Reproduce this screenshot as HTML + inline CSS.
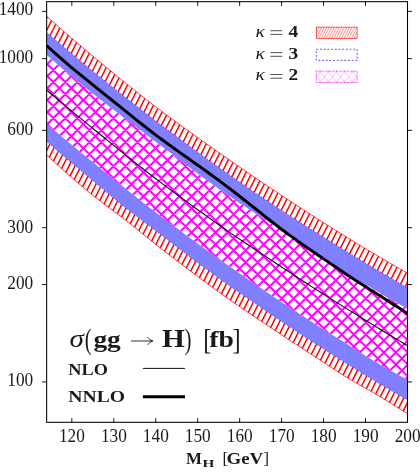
<!DOCTYPE html>
<html><head><meta charset="utf-8"><title>chart</title>
<style>html,body{margin:0;padding:0;background:#fff;overflow:hidden}body{width:420px;height:473px;position:relative;font-family:"Liberation Serif",serif}</style>
</head><body>
<svg width="420" height="473" viewBox="0 0 420 473" style="position:absolute;left:0;top:0;will-change:transform;font-family:'Liberation Serif',serif">
<defs>
<clipPath id="cp"><rect x="46.65" y="1.67" width="360.85" height="420.63"/></clipPath>
</defs>
<rect width="420" height="473" fill="#fff"/>
<clipPath id="cr"><path d="M46.65 16.36 L50.66 19.89 L54.67 23.41 L58.68 26.91 L62.69 30.40 L66.70 33.87 L70.71 37.32 L74.72 40.76 L78.73 44.18 L82.74 47.58 L86.74 50.97 L90.75 54.33 L94.76 57.68 L98.77 61.02 L102.78 64.35 L106.79 67.67 L110.80 70.98 L114.81 74.27 L118.82 77.55 L122.83 80.81 L126.84 84.06 L130.85 87.28 L134.86 90.49 L138.87 93.67 L142.88 96.82 L146.89 99.95 L150.90 103.05 L154.91 106.13 L158.91 109.17 L162.92 112.19 L166.93 115.18 L170.94 118.16 L174.95 121.11 L178.96 124.05 L182.97 126.97 L186.98 129.87 L190.99 132.76 L195.00 135.63 L199.01 138.49 L203.02 141.35 L207.03 144.19 L211.04 147.03 L215.05 149.86 L219.06 152.68 L223.07 155.50 L227.08 158.31 L231.08 161.10 L235.09 163.88 L239.10 166.65 L243.11 169.41 L247.12 172.16 L251.13 174.90 L255.14 177.63 L259.15 180.35 L263.16 183.06 L267.17 185.76 L271.18 188.45 L275.19 191.13 L279.20 193.80 L283.21 196.46 L287.22 199.11 L291.23 201.75 L295.24 204.38 L299.25 207.01 L303.25 209.62 L307.26 212.22 L311.27 214.81 L315.28 217.38 L319.29 219.95 L323.30 222.50 L327.31 225.04 L331.32 227.57 L335.33 230.09 L339.34 232.59 L343.35 235.08 L347.36 237.56 L351.37 240.02 L355.38 242.47 L359.39 244.91 L363.40 247.34 L367.41 249.75 L371.42 252.15 L375.42 254.54 L379.43 256.91 L383.44 259.28 L387.45 261.63 L391.46 263.97 L395.47 266.29 L399.48 268.60 L403.49 270.90 L407.50 273.19 L407.50 413.69 L403.49 411.15 L399.48 408.64 L395.47 406.14 L391.46 403.67 L387.45 401.21 L383.44 398.76 L379.43 396.31 L375.42 393.88 L371.42 391.51 L367.41 389.20 L363.40 386.94 L359.39 384.69 L355.38 382.43 L351.37 380.11 L347.36 377.72 L343.35 375.22 L339.34 372.66 L335.33 370.07 L331.32 367.45 L327.31 364.81 L323.30 362.17 L319.29 359.52 L315.28 356.89 L311.27 354.27 L307.26 351.66 L303.25 349.06 L299.25 346.45 L295.24 343.84 L291.23 341.23 L287.22 338.60 L283.21 335.96 L279.20 333.30 L275.19 330.64 L271.18 327.97 L267.17 325.30 L263.16 322.62 L259.15 319.93 L255.14 317.23 L251.13 314.51 L247.12 311.78 L243.11 309.04 L239.10 306.27 L235.09 303.49 L231.08 300.69 L227.08 297.87 L223.07 295.02 L219.06 292.14 L215.05 289.24 L211.04 286.32 L207.03 283.39 L203.02 280.43 L199.01 277.46 L195.00 274.47 L190.99 271.46 L186.98 268.43 L182.97 265.39 L178.96 262.34 L174.95 259.26 L170.94 256.18 L166.93 253.08 L162.92 249.97 L158.91 246.85 L154.91 243.71 L150.90 240.54 L146.89 237.32 L142.88 234.08 L138.87 230.82 L134.86 227.56 L130.85 224.33 L126.84 221.12 L122.83 217.97 L118.82 214.91 L114.81 211.92 L110.80 208.97 L106.79 206.02 L102.78 203.05 L98.77 200.01 L94.76 196.88 L90.75 193.63 L86.74 190.33 L82.74 187.00 L78.73 183.61 L74.72 180.19 L70.71 176.71 L66.70 173.19 L62.69 169.63 L58.68 166.01 L54.67 162.34 L50.66 158.63 L46.65 154.86Z"/></clipPath>
<clipPath id="cm"><path d="M46.65 55.06 L50.66 58.51 L54.67 61.94 L58.68 65.36 L62.69 68.75 L66.70 72.13 L70.71 75.49 L74.72 78.82 L78.73 82.13 L82.74 85.41 L86.74 88.67 L90.75 91.90 L94.76 95.10 L98.77 98.27 L102.78 101.42 L106.79 104.56 L110.80 107.67 L114.81 110.77 L118.82 113.85 L122.83 116.92 L126.84 119.98 L130.85 123.03 L134.86 126.06 L138.87 129.09 L142.88 132.12 L146.89 135.14 L150.90 138.15 L154.91 141.17 L158.91 144.19 L162.92 147.22 L166.93 150.26 L170.94 153.31 L174.95 156.35 L178.96 159.40 L182.97 162.44 L186.98 165.48 L190.99 168.50 L195.00 171.51 L199.01 174.50 L203.02 177.47 L207.03 180.41 L211.04 183.33 L215.05 186.21 L219.06 189.06 L223.07 191.86 L227.08 194.62 L231.08 197.34 L235.09 200.02 L239.10 202.67 L243.11 205.30 L247.12 207.91 L251.13 210.50 L255.14 213.08 L259.15 215.66 L263.16 218.23 L267.17 220.81 L271.18 223.40 L275.19 226.00 L279.20 228.63 L283.21 231.27 L287.22 233.95 L291.23 236.63 L295.24 239.34 L299.25 242.05 L303.25 244.76 L307.26 247.48 L311.27 250.19 L315.28 252.89 L319.29 255.58 L323.30 258.25 L327.31 260.89 L331.32 263.51 L335.33 266.09 L339.34 268.64 L343.35 271.14 L347.36 273.61 L351.37 276.06 L355.38 278.50 L359.39 280.93 L363.40 283.34 L367.41 285.74 L371.42 288.12 L375.42 290.48 L379.43 292.83 L383.44 295.16 L387.45 297.46 L391.46 299.75 L395.47 302.02 L399.48 304.27 L403.49 306.49 L407.50 308.69 L407.50 379.69 L403.49 377.59 L399.48 375.46 L395.47 373.29 L391.46 371.09 L387.45 368.85 L383.44 366.57 L379.43 364.23 L375.42 361.85 L371.42 359.42 L367.41 356.95 L363.40 354.46 L359.39 351.94 L355.38 349.41 L351.37 346.88 L347.36 344.37 L343.35 341.87 L339.34 339.37 L335.33 336.86 L331.32 334.34 L327.31 331.80 L323.30 329.25 L319.29 326.70 L315.28 324.13 L311.27 321.54 L307.26 318.95 L303.25 316.35 L299.25 313.73 L295.24 311.10 L291.23 308.46 L287.22 305.81 L283.21 303.15 L279.20 300.47 L275.19 297.79 L271.18 295.09 L267.17 292.38 L263.16 289.66 L259.15 286.93 L255.14 284.18 L251.13 281.43 L247.12 278.66 L243.11 275.88 L239.10 273.09 L235.09 270.29 L231.08 267.47 L227.08 264.65 L223.07 261.81 L219.06 258.96 L215.05 256.10 L211.04 253.23 L207.03 250.34 L203.02 247.44 L199.01 244.53 L195.00 241.61 L190.99 238.67 L186.98 235.72 L182.97 232.76 L178.96 229.79 L174.95 226.80 L170.94 223.81 L166.93 220.80 L162.92 217.77 L158.91 214.74 L154.91 211.69 L150.90 208.63 L146.89 205.53 L142.88 202.41 L138.87 199.27 L134.86 196.11 L130.85 192.94 L126.84 189.74 L122.83 186.53 L118.82 183.31 L114.81 180.08 L110.80 176.83 L106.79 173.58 L102.78 170.33 L98.77 167.06 L94.76 163.80 L90.75 160.53 L86.74 157.26 L82.74 153.97 L78.73 150.68 L74.72 147.37 L70.71 144.05 L66.70 140.73 L62.69 137.39 L58.68 134.05 L54.67 130.69 L50.66 127.33 L46.65 123.96Z"/></clipPath>
<g clip-path="url(#cp)">
<g clip-path="url(#cr)"><path d="M45.47 -3.33L-169.85 427.30M51.48 -3.33L-163.84 427.30M57.49 -3.33L-157.83 427.30M63.50 -3.33L-151.82 427.30M69.50 -3.33L-145.81 427.30M75.52 -3.33L-139.80 427.30M81.53 -3.33L-133.79 427.30M87.54 -3.33L-127.78 427.30M93.55 -3.33L-121.77 427.30M99.56 -3.33L-115.76 427.30M105.57 -3.33L-109.75 427.30M111.58 -3.33L-103.74 427.30M117.58 -3.33L-97.73 427.30M123.59 -3.33L-91.72 427.30M129.61 -3.33L-85.71 427.30M135.62 -3.33L-79.70 427.30M141.62 -3.33L-73.69 427.30M147.63 -3.33L-67.68 427.30M153.64 -3.33L-61.67 427.30M159.66 -3.33L-55.66 427.30M165.67 -3.33L-49.65 427.30M171.68 -3.33L-43.64 427.30M177.69 -3.33L-37.63 427.30M183.69 -3.33L-31.62 427.30M189.70 -3.33L-25.61 427.30M195.72 -3.33L-19.60 427.30M201.73 -3.33L-13.59 427.30M207.74 -3.33L-7.58 427.30M213.75 -3.33L-1.57 427.30M219.75 -3.33L4.44 427.30M225.76 -3.33L10.45 427.30M231.78 -3.33L16.46 427.30M237.79 -3.33L22.47 427.30M243.80 -3.33L28.48 427.30M249.81 -3.33L34.49 427.30M255.81 -3.33L40.50 427.30M261.82 -3.33L46.51 427.30M267.84 -3.33L52.52 427.30M273.85 -3.33L58.53 427.30M279.86 -3.33L64.54 427.30M285.87 -3.33L70.55 427.30M291.88 -3.33L76.56 427.30M297.88 -3.33L82.57 427.30M303.89 -3.33L88.58 427.30M309.91 -3.33L94.59 427.30M315.92 -3.33L100.60 427.30M321.93 -3.33L106.61 427.30M327.94 -3.33L112.62 427.30M333.94 -3.33L118.63 427.30M339.95 -3.33L124.64 427.30M345.96 -3.33L130.65 427.30M351.98 -3.33L136.66 427.30M357.99 -3.33L142.67 427.30M364.00 -3.33L148.68 427.30M370.00 -3.33L154.69 427.30M376.01 -3.33L160.70 427.30M382.02 -3.33L166.71 427.30M388.03 -3.33L172.72 427.30M394.05 -3.33L178.73 427.30M400.06 -3.33L184.74 427.30M406.06 -3.33L190.75 427.30M412.07 -3.33L196.76 427.30M418.08 -3.33L202.77 427.30M424.09 -3.33L208.78 427.30M430.11 -3.33L214.79 427.30M436.12 -3.33L220.80 427.30M442.12 -3.33L226.81 427.30M448.13 -3.33L232.82 427.30M454.14 -3.33L238.83 427.30M460.15 -3.33L244.84 427.30M466.16 -3.33L250.85 427.30M472.18 -3.33L256.86 427.30M478.19 -3.33L262.87 427.30M484.19 -3.33L268.88 427.30M490.20 -3.33L274.89 427.30M496.21 -3.33L280.90 427.30M502.22 -3.33L286.91 427.30M508.24 -3.33L292.92 427.30M514.25 -3.33L298.93 427.30M520.25 -3.33L304.94 427.30M526.26 -3.33L310.95 427.30M532.27 -3.33L316.96 427.30M538.28 -3.33L322.97 427.30M544.29 -3.33L328.98 427.30M550.30 -3.33L334.99 427.30M556.31 -3.33L341.00 427.30M562.32 -3.33L347.01 427.30M568.33 -3.33L353.02 427.30M574.34 -3.33L359.03 427.30M580.36 -3.33L365.04 427.30M586.37 -3.33L371.05 427.30M592.38 -3.33L377.06 427.30M598.38 -3.33L383.07 427.30M604.39 -3.33L389.08 427.30M610.40 -3.33L395.09 427.30M616.41 -3.33L401.10 427.30M622.42 -3.33L407.11 427.30" stroke="#ff0000" stroke-width="1.5" fill="none"/></g>
<path d="M46.65 16.36 L50.66 19.89 L54.67 23.41 L58.68 26.91 L62.69 30.40 L66.70 33.87 L70.71 37.32 L74.72 40.76 L78.73 44.18 L82.74 47.58 L86.74 50.97 L90.75 54.33 L94.76 57.68 L98.77 61.02 L102.78 64.35 L106.79 67.67 L110.80 70.98 L114.81 74.27 L118.82 77.55 L122.83 80.81 L126.84 84.06 L130.85 87.28 L134.86 90.49 L138.87 93.67 L142.88 96.82 L146.89 99.95 L150.90 103.05 L154.91 106.13 L158.91 109.17 L162.92 112.19 L166.93 115.18 L170.94 118.16 L174.95 121.11 L178.96 124.05 L182.97 126.97 L186.98 129.87 L190.99 132.76 L195.00 135.63 L199.01 138.49 L203.02 141.35 L207.03 144.19 L211.04 147.03 L215.05 149.86 L219.06 152.68 L223.07 155.50 L227.08 158.31 L231.08 161.10 L235.09 163.88 L239.10 166.65 L243.11 169.41 L247.12 172.16 L251.13 174.90 L255.14 177.63 L259.15 180.35 L263.16 183.06 L267.17 185.76 L271.18 188.45 L275.19 191.13 L279.20 193.80 L283.21 196.46 L287.22 199.11 L291.23 201.75 L295.24 204.38 L299.25 207.01 L303.25 209.62 L307.26 212.22 L311.27 214.81 L315.28 217.38 L319.29 219.95 L323.30 222.50 L327.31 225.04 L331.32 227.57 L335.33 230.09 L339.34 232.59 L343.35 235.08 L347.36 237.56 L351.37 240.02 L355.38 242.47 L359.39 244.91 L363.40 247.34 L367.41 249.75 L371.42 252.15 L375.42 254.54 L379.43 256.91 L383.44 259.28 L387.45 261.63 L391.46 263.97 L395.47 266.29 L399.48 268.60 L403.49 270.90 L407.50 273.19" fill="none" stroke="#ff0000" stroke-width="0.75"/>
<path d="M46.65 154.86 L50.66 158.63 L54.67 162.34 L58.68 166.01 L62.69 169.63 L66.70 173.19 L70.71 176.71 L74.72 180.19 L78.73 183.61 L82.74 187.00 L86.74 190.33 L90.75 193.63 L94.76 196.88 L98.77 200.01 L102.78 203.05 L106.79 206.02 L110.80 208.97 L114.81 211.92 L118.82 214.91 L122.83 217.97 L126.84 221.12 L130.85 224.33 L134.86 227.56 L138.87 230.82 L142.88 234.08 L146.89 237.32 L150.90 240.54 L154.91 243.71 L158.91 246.85 L162.92 249.97 L166.93 253.08 L170.94 256.18 L174.95 259.26 L178.96 262.34 L182.97 265.39 L186.98 268.43 L190.99 271.46 L195.00 274.47 L199.01 277.46 L203.02 280.43 L207.03 283.39 L211.04 286.32 L215.05 289.24 L219.06 292.14 L223.07 295.02 L227.08 297.87 L231.08 300.69 L235.09 303.49 L239.10 306.27 L243.11 309.04 L247.12 311.78 L251.13 314.51 L255.14 317.23 L259.15 319.93 L263.16 322.62 L267.17 325.30 L271.18 327.97 L275.19 330.64 L279.20 333.30 L283.21 335.96 L287.22 338.60 L291.23 341.23 L295.24 343.84 L299.25 346.45 L303.25 349.06 L307.26 351.66 L311.27 354.27 L315.28 356.89 L319.29 359.52 L323.30 362.17 L327.31 364.81 L331.32 367.45 L335.33 370.07 L339.34 372.66 L343.35 375.22 L347.36 377.72 L351.37 380.11 L355.38 382.43 L359.39 384.69 L363.40 386.94 L367.41 389.20 L371.42 391.51 L375.42 393.88 L379.43 396.31 L383.44 398.76 L387.45 401.21 L391.46 403.67 L395.47 406.14 L399.48 408.64 L403.49 411.15 L407.50 413.69" fill="none" stroke="#ff0000" stroke-width="0.75"/>
<path d="M46.65 32.36 L50.66 35.80 L54.67 39.22 L58.68 42.63 L62.69 46.03 L66.70 49.41 L70.71 52.78 L74.72 56.13 L78.73 59.47 L82.74 62.79 L86.74 66.10 L90.75 69.39 L94.76 72.67 L98.77 75.93 L102.78 79.18 L106.79 82.42 L110.80 85.64 L114.81 88.86 L118.82 92.06 L122.83 95.24 L126.84 98.41 L130.85 101.57 L134.86 104.71 L138.87 107.84 L142.88 110.96 L146.89 114.05 L150.90 117.14 L154.91 120.20 L158.91 123.25 L162.92 126.29 L166.93 129.32 L170.94 132.34 L174.95 135.34 L178.96 138.33 L182.97 141.31 L186.98 144.27 L190.99 147.22 L195.00 150.16 L199.01 153.09 L203.02 156.00 L207.03 158.90 L211.04 161.79 L215.05 164.66 L219.06 167.52 L223.07 170.36 L227.08 173.19 L231.08 176.01 L235.09 178.81 L239.10 181.60 L243.11 184.38 L247.12 187.14 L251.13 189.89 L255.14 192.63 L259.15 195.35 L263.16 198.07 L267.17 200.77 L271.18 203.45 L275.19 206.13 L279.20 208.79 L283.21 211.44 L287.22 214.07 L291.23 216.68 L295.24 219.27 L299.25 221.84 L303.25 224.40 L307.26 226.94 L311.27 229.46 L315.28 231.98 L319.29 234.49 L323.30 236.99 L327.31 239.48 L331.32 241.97 L335.33 244.45 L339.34 246.94 L343.35 249.43 L347.36 251.91 L351.37 254.38 L355.38 256.85 L359.39 259.30 L363.40 261.73 L367.41 264.16 L371.42 266.58 L375.42 268.98 L379.43 271.37 L383.44 273.75 L387.45 276.12 L391.46 278.48 L395.47 280.83 L399.48 283.16 L403.49 285.48 L407.50 287.79 L407.50 399.99 L403.49 397.69 L399.48 395.38 L395.47 393.06 L391.46 390.72 L387.45 388.37 L383.44 386.00 L379.43 383.63 L375.42 381.24 L371.42 378.83 L367.41 376.41 L363.40 373.98 L359.39 371.53 L355.38 369.07 L351.37 366.59 L347.36 364.10 L343.35 361.59 L339.34 359.07 L335.33 356.54 L331.32 353.99 L327.31 351.43 L323.30 348.86 L319.29 346.28 L315.28 343.68 L311.27 341.08 L307.26 338.46 L303.25 335.83 L299.25 333.19 L295.24 330.53 L291.23 327.87 L287.22 325.20 L283.21 322.51 L279.20 319.82 L275.19 317.13 L271.18 314.43 L267.17 311.72 L263.16 309.01 L259.15 306.29 L255.14 303.56 L251.13 300.82 L247.12 298.06 L243.11 295.30 L239.10 292.52 L235.09 289.72 L231.08 286.91 L227.08 284.08 L223.07 281.22 L219.06 278.35 L215.05 275.45 L211.04 272.53 L207.03 269.59 L203.02 266.63 L199.01 263.64 L195.00 260.64 L190.99 257.63 L186.98 254.60 L182.97 251.56 L178.96 248.51 L174.95 245.45 L170.94 242.38 L166.93 239.32 L162.92 236.25 L158.91 233.18 L154.91 230.11 L150.90 227.06 L146.89 224.04 L142.88 221.03 L138.87 218.02 L134.86 214.99 L130.85 211.93 L126.84 208.82 L122.83 205.66 L118.82 202.43 L114.81 199.13 L110.80 195.80 L106.79 192.43 L102.78 189.05 L98.77 185.66 L94.76 182.29 L90.75 178.94 L86.74 175.58 L82.74 172.21 L78.73 168.84 L74.72 165.45 L70.71 162.06 L66.70 158.66 L62.69 155.25 L58.68 151.84 L54.67 148.42 L50.66 144.99 L46.65 141.56Z" fill="#8080ff"/>
<path d="M46.65 32.36 L50.66 35.80 L54.67 39.22 L58.68 42.63 L62.69 46.03 L66.70 49.41 L70.71 52.78 L74.72 56.13 L78.73 59.47 L82.74 62.79 L86.74 66.10 L90.75 69.39 L94.76 72.67 L98.77 75.93 L102.78 79.18 L106.79 82.42 L110.80 85.64 L114.81 88.86 L118.82 92.06 L122.83 95.24 L126.84 98.41 L130.85 101.57 L134.86 104.71 L138.87 107.84 L142.88 110.96 L146.89 114.05 L150.90 117.14 L154.91 120.20 L158.91 123.25 L162.92 126.29 L166.93 129.32 L170.94 132.34 L174.95 135.34 L178.96 138.33 L182.97 141.31 L186.98 144.27 L190.99 147.22 L195.00 150.16 L199.01 153.09 L203.02 156.00 L207.03 158.90 L211.04 161.79 L215.05 164.66 L219.06 167.52 L223.07 170.36 L227.08 173.19 L231.08 176.01 L235.09 178.81 L239.10 181.60 L243.11 184.38 L247.12 187.14 L251.13 189.89 L255.14 192.63 L259.15 195.35 L263.16 198.07 L267.17 200.77 L271.18 203.45 L275.19 206.13 L279.20 208.79 L283.21 211.44 L287.22 214.07 L291.23 216.68 L295.24 219.27 L299.25 221.84 L303.25 224.40 L307.26 226.94 L311.27 229.46 L315.28 231.98 L319.29 234.49 L323.30 236.99 L327.31 239.48 L331.32 241.97 L335.33 244.45 L339.34 246.94 L343.35 249.43 L347.36 251.91 L351.37 254.38 L355.38 256.85 L359.39 259.30 L363.40 261.73 L367.41 264.16 L371.42 266.58 L375.42 268.98 L379.43 271.37 L383.44 273.75 L387.45 276.12 L391.46 278.48 L395.47 280.83 L399.48 283.16 L403.49 285.48 L407.50 287.79" fill="none" stroke="#0000ff" stroke-width="0.6" stroke-dasharray="1 2"/>
<path d="M46.65 141.56 L50.66 144.99 L54.67 148.42 L58.68 151.84 L62.69 155.25 L66.70 158.66 L70.71 162.06 L74.72 165.45 L78.73 168.84 L82.74 172.21 L86.74 175.58 L90.75 178.94 L94.76 182.29 L98.77 185.66 L102.78 189.05 L106.79 192.43 L110.80 195.80 L114.81 199.13 L118.82 202.43 L122.83 205.66 L126.84 208.82 L130.85 211.93 L134.86 214.99 L138.87 218.02 L142.88 221.03 L146.89 224.04 L150.90 227.06 L154.91 230.11 L158.91 233.18 L162.92 236.25 L166.93 239.32 L170.94 242.38 L174.95 245.45 L178.96 248.51 L182.97 251.56 L186.98 254.60 L190.99 257.63 L195.00 260.64 L199.01 263.64 L203.02 266.63 L207.03 269.59 L211.04 272.53 L215.05 275.45 L219.06 278.35 L223.07 281.22 L227.08 284.08 L231.08 286.91 L235.09 289.72 L239.10 292.52 L243.11 295.30 L247.12 298.06 L251.13 300.82 L255.14 303.56 L259.15 306.29 L263.16 309.01 L267.17 311.72 L271.18 314.43 L275.19 317.13 L279.20 319.82 L283.21 322.51 L287.22 325.20 L291.23 327.87 L295.24 330.53 L299.25 333.19 L303.25 335.83 L307.26 338.46 L311.27 341.08 L315.28 343.68 L319.29 346.28 L323.30 348.86 L327.31 351.43 L331.32 353.99 L335.33 356.54 L339.34 359.07 L343.35 361.59 L347.36 364.10 L351.37 366.59 L355.38 369.07 L359.39 371.53 L363.40 373.98 L367.41 376.41 L371.42 378.83 L375.42 381.24 L379.43 383.63 L383.44 386.00 L387.45 388.37 L391.46 390.72 L395.47 393.06 L399.48 395.38 L403.49 397.69 L407.50 399.99" fill="none" stroke="#0000ff" stroke-width="0.6" stroke-dasharray="1 2"/>
<path d="M46.65 55.06 L50.66 58.51 L54.67 61.94 L58.68 65.36 L62.69 68.75 L66.70 72.13 L70.71 75.49 L74.72 78.82 L78.73 82.13 L82.74 85.41 L86.74 88.67 L90.75 91.90 L94.76 95.10 L98.77 98.27 L102.78 101.42 L106.79 104.56 L110.80 107.67 L114.81 110.77 L118.82 113.85 L122.83 116.92 L126.84 119.98 L130.85 123.03 L134.86 126.06 L138.87 129.09 L142.88 132.12 L146.89 135.14 L150.90 138.15 L154.91 141.17 L158.91 144.19 L162.92 147.22 L166.93 150.26 L170.94 153.31 L174.95 156.35 L178.96 159.40 L182.97 162.44 L186.98 165.48 L190.99 168.50 L195.00 171.51 L199.01 174.50 L203.02 177.47 L207.03 180.41 L211.04 183.33 L215.05 186.21 L219.06 189.06 L223.07 191.86 L227.08 194.62 L231.08 197.34 L235.09 200.02 L239.10 202.67 L243.11 205.30 L247.12 207.91 L251.13 210.50 L255.14 213.08 L259.15 215.66 L263.16 218.23 L267.17 220.81 L271.18 223.40 L275.19 226.00 L279.20 228.63 L283.21 231.27 L287.22 233.95 L291.23 236.63 L295.24 239.34 L299.25 242.05 L303.25 244.76 L307.26 247.48 L311.27 250.19 L315.28 252.89 L319.29 255.58 L323.30 258.25 L327.31 260.89 L331.32 263.51 L335.33 266.09 L339.34 268.64 L343.35 271.14 L347.36 273.61 L351.37 276.06 L355.38 278.50 L359.39 280.93 L363.40 283.34 L367.41 285.74 L371.42 288.12 L375.42 290.48 L379.43 292.83 L383.44 295.16 L387.45 297.46 L391.46 299.75 L395.47 302.02 L399.48 304.27 L403.49 306.49 L407.50 308.69 L407.50 379.69 L403.49 377.59 L399.48 375.46 L395.47 373.29 L391.46 371.09 L387.45 368.85 L383.44 366.57 L379.43 364.23 L375.42 361.85 L371.42 359.42 L367.41 356.95 L363.40 354.46 L359.39 351.94 L355.38 349.41 L351.37 346.88 L347.36 344.37 L343.35 341.87 L339.34 339.37 L335.33 336.86 L331.32 334.34 L327.31 331.80 L323.30 329.25 L319.29 326.70 L315.28 324.13 L311.27 321.54 L307.26 318.95 L303.25 316.35 L299.25 313.73 L295.24 311.10 L291.23 308.46 L287.22 305.81 L283.21 303.15 L279.20 300.47 L275.19 297.79 L271.18 295.09 L267.17 292.38 L263.16 289.66 L259.15 286.93 L255.14 284.18 L251.13 281.43 L247.12 278.66 L243.11 275.88 L239.10 273.09 L235.09 270.29 L231.08 267.47 L227.08 264.65 L223.07 261.81 L219.06 258.96 L215.05 256.10 L211.04 253.23 L207.03 250.34 L203.02 247.44 L199.01 244.53 L195.00 241.61 L190.99 238.67 L186.98 235.72 L182.97 232.76 L178.96 229.79 L174.95 226.80 L170.94 223.81 L166.93 220.80 L162.92 217.77 L158.91 214.74 L154.91 211.69 L150.90 208.63 L146.89 205.53 L142.88 202.41 L138.87 199.27 L134.86 196.11 L130.85 192.94 L126.84 189.74 L122.83 186.53 L118.82 183.31 L114.81 180.08 L110.80 176.83 L106.79 173.58 L102.78 170.33 L98.77 167.06 L94.76 163.80 L90.75 160.53 L86.74 157.26 L82.74 153.97 L78.73 150.68 L74.72 147.37 L70.71 144.05 L66.70 140.73 L62.69 137.39 L58.68 134.05 L54.67 130.69 L50.66 127.33 L46.65 123.96Z" fill="#fff"/>
<g clip-path="url(#cm)"><path d="M-380.71 -3.33L49.92 427.30M-368.69 -3.33L61.94 427.30M-356.67 -3.33L73.96 427.30M-344.65 -3.33L85.98 427.30M-332.63 -3.33L98.00 427.30M-320.61 -3.33L110.02 427.30M-308.59 -3.33L122.04 427.30M-296.57 -3.33L134.06 427.30M-284.55 -3.33L146.08 427.30M-272.53 -3.33L158.10 427.30M-260.51 -3.33L170.12 427.30M-248.49 -3.33L182.14 427.30M-236.47 -3.33L194.16 427.30M-224.45 -3.33L206.18 427.30M-212.43 -3.33L218.20 427.30M54.63 -3.33L-376.00 427.30M-200.41 -3.33L230.22 427.30M66.65 -3.33L-363.98 427.30M-188.39 -3.33L242.24 427.30M78.67 -3.33L-351.96 427.30M-176.37 -3.33L254.26 427.30M90.69 -3.33L-339.94 427.30M-164.35 -3.33L266.28 427.30M102.71 -3.33L-327.92 427.30M-152.33 -3.33L278.30 427.30M114.73 -3.33L-315.90 427.30M-140.31 -3.33L290.32 427.30M126.75 -3.33L-303.88 427.30M-128.29 -3.33L302.34 427.30M138.77 -3.33L-291.86 427.30M-116.27 -3.33L314.36 427.30M150.79 -3.33L-279.84 427.30M-104.25 -3.33L326.38 427.30M162.81 -3.33L-267.82 427.30M-92.23 -3.33L338.40 427.30M174.83 -3.33L-255.80 427.30M-80.21 -3.33L350.42 427.30M186.85 -3.33L-243.78 427.30M-68.19 -3.33L362.44 427.30M198.87 -3.33L-231.76 427.30M-56.17 -3.33L374.46 427.30M210.89 -3.33L-219.74 427.30M-44.15 -3.33L386.48 427.30M222.91 -3.33L-207.72 427.30M-32.13 -3.33L398.50 427.30M234.93 -3.33L-195.70 427.30M-20.11 -3.33L410.52 427.30M246.95 -3.33L-183.68 427.30M-8.09 -3.33L422.54 427.30M258.97 -3.33L-171.66 427.30M3.93 -3.33L434.56 427.30M270.99 -3.33L-159.64 427.30M15.95 -3.33L446.58 427.30M283.01 -3.33L-147.62 427.30M27.97 -3.33L458.60 427.30M295.03 -3.33L-135.60 427.30M39.99 -3.33L470.62 427.30M307.05 -3.33L-123.58 427.30M52.01 -3.33L482.64 427.30M319.07 -3.33L-111.56 427.30M64.03 -3.33L494.66 427.30M331.09 -3.33L-99.54 427.30M76.05 -3.33L506.68 427.30M343.11 -3.33L-87.52 427.30M88.07 -3.33L518.70 427.30M355.13 -3.33L-75.50 427.30M100.09 -3.33L530.72 427.30M367.15 -3.33L-63.48 427.30M112.11 -3.33L542.74 427.30M379.17 -3.33L-51.46 427.30M124.13 -3.33L554.76 427.30M391.19 -3.33L-39.44 427.30M136.15 -3.33L566.78 427.30M403.21 -3.33L-27.42 427.30M148.17 -3.33L578.80 427.30M415.23 -3.33L-15.40 427.30M160.19 -3.33L590.82 427.30M427.25 -3.33L-3.38 427.30M172.21 -3.33L602.84 427.30M439.27 -3.33L8.64 427.30M184.23 -3.33L614.86 427.30M451.29 -3.33L20.66 427.30M196.25 -3.33L626.88 427.30M463.31 -3.33L32.68 427.30M208.27 -3.33L638.90 427.30M475.33 -3.33L44.70 427.30M220.29 -3.33L650.92 427.30M487.35 -3.33L56.72 427.30M232.31 -3.33L662.94 427.30M499.37 -3.33L68.74 427.30M244.33 -3.33L674.96 427.30M511.39 -3.33L80.76 427.30M256.35 -3.33L686.98 427.30M523.41 -3.33L92.78 427.30M268.37 -3.33L699.00 427.30M535.43 -3.33L104.80 427.30M280.39 -3.33L711.02 427.30M547.45 -3.33L116.82 427.30M292.41 -3.33L723.04 427.30M559.47 -3.33L128.84 427.30M304.43 -3.33L735.06 427.30M571.49 -3.33L140.86 427.30M316.45 -3.33L747.08 427.30M583.51 -3.33L152.88 427.30M328.47 -3.33L759.10 427.30M595.53 -3.33L164.90 427.30M340.49 -3.33L771.12 427.30M607.55 -3.33L176.92 427.30M352.51 -3.33L783.14 427.30M619.57 -3.33L188.94 427.30M364.53 -3.33L795.16 427.30M631.59 -3.33L200.96 427.30M376.55 -3.33L807.18 427.30M643.61 -3.33L212.98 427.30M388.57 -3.33L819.20 427.30M655.63 -3.33L225.00 427.30M400.59 -3.33L831.22 427.30M667.65 -3.33L237.02 427.30M679.67 -3.33L249.04 427.30M691.69 -3.33L261.06 427.30M703.71 -3.33L273.08 427.30M715.73 -3.33L285.10 427.30M727.75 -3.33L297.12 427.30M739.77 -3.33L309.14 427.30M751.79 -3.33L321.16 427.30M763.81 -3.33L333.18 427.30M775.83 -3.33L345.20 427.30M787.85 -3.33L357.22 427.30M799.87 -3.33L369.24 427.30M811.89 -3.33L381.26 427.30M823.91 -3.33L393.28 427.30M835.93 -3.33L405.30 427.30" stroke="#ff00ff" stroke-width="2.0" fill="none"/></g>
<clipPath id="cb"><path d="M46.65 32.36 L50.66 35.80 L54.67 39.22 L58.68 42.63 L62.69 46.03 L66.70 49.41 L70.71 52.78 L74.72 56.13 L78.73 59.47 L82.74 62.79 L86.74 66.10 L90.75 69.39 L94.76 72.67 L98.77 75.93 L102.78 79.18 L106.79 82.42 L110.80 85.64 L114.81 88.86 L118.82 92.06 L122.83 95.24 L126.84 98.41 L130.85 101.57 L134.86 104.71 L138.87 107.84 L142.88 110.96 L146.89 114.05 L150.90 117.14 L154.91 120.20 L158.91 123.25 L162.92 126.29 L166.93 129.32 L170.94 132.34 L174.95 135.34 L178.96 138.33 L182.97 141.31 L186.98 144.27 L190.99 147.22 L195.00 150.16 L199.01 153.09 L203.02 156.00 L207.03 158.90 L211.04 161.79 L215.05 164.66 L219.06 167.52 L223.07 170.36 L227.08 173.19 L231.08 176.01 L235.09 178.81 L239.10 181.60 L243.11 184.38 L247.12 187.14 L251.13 189.89 L255.14 192.63 L259.15 195.35 L263.16 198.07 L267.17 200.77 L271.18 203.45 L275.19 206.13 L279.20 208.79 L283.21 211.44 L287.22 214.07 L291.23 216.68 L295.24 219.27 L299.25 221.84 L303.25 224.40 L307.26 226.94 L311.27 229.46 L315.28 231.98 L319.29 234.49 L323.30 236.99 L327.31 239.48 L331.32 241.97 L335.33 244.45 L339.34 246.94 L343.35 249.43 L347.36 251.91 L351.37 254.38 L355.38 256.85 L359.39 259.30 L363.40 261.73 L367.41 264.16 L371.42 266.58 L375.42 268.98 L379.43 271.37 L383.44 273.75 L387.45 276.12 L391.46 278.48 L395.47 280.83 L399.48 283.16 L403.49 285.48 L407.50 287.79 L407.50 399.99 L403.49 397.69 L399.48 395.38 L395.47 393.06 L391.46 390.72 L387.45 388.37 L383.44 386.00 L379.43 383.63 L375.42 381.24 L371.42 378.83 L367.41 376.41 L363.40 373.98 L359.39 371.53 L355.38 369.07 L351.37 366.59 L347.36 364.10 L343.35 361.59 L339.34 359.07 L335.33 356.54 L331.32 353.99 L327.31 351.43 L323.30 348.86 L319.29 346.28 L315.28 343.68 L311.27 341.08 L307.26 338.46 L303.25 335.83 L299.25 333.19 L295.24 330.53 L291.23 327.87 L287.22 325.20 L283.21 322.51 L279.20 319.82 L275.19 317.13 L271.18 314.43 L267.17 311.72 L263.16 309.01 L259.15 306.29 L255.14 303.56 L251.13 300.82 L247.12 298.06 L243.11 295.30 L239.10 292.52 L235.09 289.72 L231.08 286.91 L227.08 284.08 L223.07 281.22 L219.06 278.35 L215.05 275.45 L211.04 272.53 L207.03 269.59 L203.02 266.63 L199.01 263.64 L195.00 260.64 L190.99 257.63 L186.98 254.60 L182.97 251.56 L178.96 248.51 L174.95 245.45 L170.94 242.38 L166.93 239.32 L162.92 236.25 L158.91 233.18 L154.91 230.11 L150.90 227.06 L146.89 224.04 L142.88 221.03 L138.87 218.02 L134.86 214.99 L130.85 211.93 L126.84 208.82 L122.83 205.66 L118.82 202.43 L114.81 199.13 L110.80 195.80 L106.79 192.43 L102.78 189.05 L98.77 185.66 L94.76 182.29 L90.75 178.94 L86.74 175.58 L82.74 172.21 L78.73 168.84 L74.72 165.45 L70.71 162.06 L66.70 158.66 L62.69 155.25 L58.68 151.84 L54.67 148.42 L50.66 144.99 L46.65 141.56Z"/></clipPath>
<g clip-path="url(#cb)"><path d="M50.85 1.67V422.3M71.83 1.67V422.3M92.81 1.67V422.3M113.78 1.67V422.3M134.76 1.67V422.3M155.74 1.67V422.3M176.72 1.67V422.3M197.70 1.67V422.3M218.68 1.67V422.3M239.66 1.67V422.3M260.64 1.67V422.3M281.62 1.67V422.3M302.60 1.67V422.3M323.58 1.67V422.3M344.56 1.67V422.3M365.54 1.67V422.3M386.52 1.67V422.3" stroke="#a0a0ff" stroke-width="0.5" opacity="0.35" fill="none"/></g>
<path d="M46.65 90.16 L50.66 93.52 L54.67 96.88 L58.68 100.23 L62.69 103.57 L66.70 106.91 L70.71 110.23 L74.72 113.54 L78.73 116.85 L82.74 120.15 L86.74 123.43 L90.75 126.71 L94.76 129.98 L98.77 133.25 L102.78 136.52 L106.79 139.79 L110.80 143.06 L114.81 146.32 L118.82 149.57 L122.83 152.81 L126.84 156.04 L130.85 159.25 L134.86 162.44 L138.87 165.62 L142.88 168.76 L146.89 171.88 L150.90 174.98 L154.91 178.04 L158.91 181.07 L162.92 184.09 L166.93 187.09 L170.94 190.08 L174.95 193.06 L178.96 196.03 L182.97 198.98 L186.98 201.92 L190.99 204.84 L195.00 207.75 L199.01 210.65 L203.02 213.54 L207.03 216.41 L211.04 219.28 L215.05 222.13 L219.06 224.96 L223.07 227.78 L227.08 230.57 L231.08 233.34 L235.09 236.08 L239.10 238.81 L243.11 241.52 L247.12 244.21 L251.13 246.89 L255.14 249.56 L259.15 252.22 L263.16 254.88 L267.17 257.52 L271.18 260.17 L275.19 262.81 L279.20 265.46 L283.21 268.11 L287.22 270.75 L291.23 273.38 L295.24 276.00 L299.25 278.60 L303.25 281.20 L307.26 283.79 L311.27 286.36 L315.28 288.93 L319.29 291.48 L323.30 294.03 L327.31 296.56 L331.32 299.09 L335.33 301.61 L339.34 304.11 L343.35 306.61 L347.36 309.10 L351.37 311.58 L355.38 314.06 L359.39 316.53 L363.40 319.00 L367.41 321.46 L371.42 323.92 L375.42 326.37 L379.43 328.81 L383.44 331.25 L387.45 333.68 L391.46 336.10 L395.47 338.51 L399.48 340.91 L403.49 343.31 L407.50 345.69" fill="none" stroke="#000" stroke-width="1.05"/>
<path d="M46.65 45.50 L50.66 49.24 L54.67 52.89 L58.68 56.46 L62.69 59.97 L66.70 63.40 L70.71 66.79 L74.72 70.12 L78.73 73.42 L82.74 76.68 L86.74 79.93 L90.75 83.16 L94.76 86.38 L98.77 89.60 L102.78 92.82 L106.79 96.04 L110.80 99.27 L114.81 102.50 L118.82 105.72 L122.83 108.95 L126.84 112.18 L130.85 115.40 L134.86 118.61 L138.87 121.81 L142.88 124.98 L146.89 128.12 L150.90 131.23 L154.91 134.30 L158.91 137.32 L162.92 140.30 L166.93 143.24 L170.94 146.15 L174.95 149.03 L178.96 151.89 L182.97 154.73 L186.98 157.57 L190.99 160.40 L195.00 163.23 L199.01 166.07 L203.02 168.92 L207.03 171.79 L211.04 174.68 L215.05 177.61 L219.06 180.56 L223.07 183.56 L227.08 186.59 L231.08 189.66 L235.09 192.75 L239.10 195.87 L243.11 199.01 L247.12 202.17 L251.13 205.34 L255.14 208.52 L259.15 211.72 L263.16 214.91 L267.17 218.09 L271.18 221.26 L275.19 224.39 L279.20 227.48 L283.21 230.51 L287.22 233.48 L291.23 236.40 L295.24 239.28 L299.25 242.11 L303.25 244.92 L307.26 247.69 L311.27 250.44 L315.28 253.18 L319.29 255.91 L323.30 258.64 L327.31 261.38 L331.32 264.11 L335.33 266.84 L339.34 269.56 L343.35 272.26 L347.36 274.94 L351.37 277.58 L355.38 280.20 L359.39 282.80 L363.40 285.37 L367.41 287.93 L371.42 290.48 L375.42 293.02 L379.43 295.55 L383.44 298.09 L387.45 300.62 L391.46 303.17 L395.47 305.72 L399.48 308.29 L403.49 310.88 L407.50 313.50" fill="none" stroke="#000" stroke-width="2.95"/>
</g>
<rect x="46.65" y="1.67" width="360.85" height="420.63" fill="none" stroke="#000" stroke-width="1.05"/>
<path d="M42.05 381.91H46.65M407.5 381.91H412.1M42.05 284.58H46.65M407.5 284.58H412.1M42.05 227.65H46.65M407.5 227.65H412.1M42.05 130.33H46.65M407.5 130.33H412.1M42.05 58.60H46.65M407.5 58.60H412.1M42.05 11.36H46.65M407.5 11.36H412.1M71.83 1.67V5.97M71.83 422.3V418.0M113.78 1.67V5.97M113.78 422.3V418.0M155.74 1.67V5.97M155.74 422.3V418.0M197.70 1.67V5.97M197.70 422.3V418.0M239.66 1.67V5.97M239.66 422.3V418.0M281.62 1.67V5.97M281.62 422.3V418.0M323.58 1.67V5.97M323.58 422.3V418.0M365.54 1.67V5.97M365.54 422.3V418.0" stroke="#000" stroke-width="0.9" fill="none"/>
<text x="33.2" y="386.21" font-size="17.3" text-anchor="end" fill="#1a1a1a" transform="translate(0 386.21) scale(1 1.05) translate(0 -386.21)">100</text>
<text x="33.2" y="289.48" font-size="17.3" text-anchor="end" fill="#1a1a1a" transform="translate(0 289.48) scale(1 1.05) translate(0 -289.48)">200</text>
<text x="33.2" y="232.55" font-size="17.3" text-anchor="end" fill="#1a1a1a" transform="translate(0 232.55) scale(1 1.05) translate(0 -232.55)">300</text>
<text x="33.2" y="135.03" font-size="17.3" text-anchor="end" fill="#1a1a1a" transform="translate(0 135.03) scale(1 1.05) translate(0 -135.03)">600</text>
<text x="33.2" y="63.00" font-size="17.3" text-anchor="end" fill="#1a1a1a" transform="translate(0 63.00) scale(1 1.05) translate(0 -63.00)">1000</text>
<text x="33.2" y="15.46" font-size="17.3" text-anchor="end" fill="#1a1a1a" transform="translate(0 15.46) scale(1 1.05) translate(0 -15.46)">1400</text>
<text x="71.93" y="441.9" font-size="17.3" text-anchor="middle" fill="#1a1a1a" transform="translate(0 441.9) scale(1 1.05) translate(0 -441.9)">120</text>
<text x="113.88" y="441.9" font-size="17.3" text-anchor="middle" fill="#1a1a1a" transform="translate(0 441.9) scale(1 1.05) translate(0 -441.9)">130</text>
<text x="155.84" y="441.9" font-size="17.3" text-anchor="middle" fill="#1a1a1a" transform="translate(0 441.9) scale(1 1.05) translate(0 -441.9)">140</text>
<text x="197.80" y="441.9" font-size="17.3" text-anchor="middle" fill="#1a1a1a" transform="translate(0 441.9) scale(1 1.05) translate(0 -441.9)">150</text>
<text x="239.76" y="441.9" font-size="17.3" text-anchor="middle" fill="#1a1a1a" transform="translate(0 441.9) scale(1 1.05) translate(0 -441.9)">160</text>
<text x="281.72" y="441.9" font-size="17.3" text-anchor="middle" fill="#1a1a1a" transform="translate(0 441.9) scale(1 1.05) translate(0 -441.9)">170</text>
<text x="323.68" y="441.9" font-size="17.3" text-anchor="middle" fill="#1a1a1a" transform="translate(0 441.9) scale(1 1.05) translate(0 -441.9)">180</text>
<text x="365.64" y="441.9" font-size="17.3" text-anchor="middle" fill="#1a1a1a" transform="translate(0 441.9) scale(1 1.05) translate(0 -441.9)">190</text>
<text x="407.60" y="441.9" font-size="17.3" text-anchor="middle" fill="#1a1a1a" transform="translate(0 441.9) scale(1 1.05) translate(0 -441.9)">200</text>
<text x="186" y="464" font-size="16.6" font-weight="bold" fill="#1a1a1a" textLength="15.9" lengthAdjust="spacingAndGlyphs">M</text>
<text x="202.6" y="466.6" font-size="11.4" font-weight="bold" fill="#1a1a1a" textLength="11.9" lengthAdjust="spacingAndGlyphs">H</text>
<text x="222.6" y="464" font-size="16.6" fill="#1a1a1a">[</text>
<text x="226.4" y="464" font-size="16.6" font-weight="bold" fill="#1a1a1a" textLength="36.9" lengthAdjust="spacingAndGlyphs">GeV</text>
<text x="263.6" y="464" font-size="16.6" fill="#1a1a1a">]</text>
<text x="255.4" y="36.60" font-size="17.5" font-style="italic" fill="#1a1a1a" textLength="9.4" lengthAdjust="spacingAndGlyphs">κ</text>
<path d="M270.4 30.70H282.3M270.4 34.40H282.3" stroke="#1a1a1a" stroke-width="0.75"/>
<text x="288.6" y="36.60" font-size="17.4" font-weight="bold" fill="#1a1a1a" textLength="9.7" lengthAdjust="spacingAndGlyphs">4</text>
<text x="255.4" y="58.50" font-size="17.5" font-style="italic" fill="#1a1a1a" textLength="9.4" lengthAdjust="spacingAndGlyphs">κ</text>
<path d="M270.4 52.60H282.3M270.4 56.30H282.3" stroke="#1a1a1a" stroke-width="0.75"/>
<text x="288.6" y="58.50" font-size="17.4" font-weight="bold" fill="#1a1a1a" textLength="9.7" lengthAdjust="spacingAndGlyphs">3</text>
<text x="255.4" y="80.40" font-size="17.5" font-style="italic" fill="#1a1a1a" textLength="9.4" lengthAdjust="spacingAndGlyphs">κ</text>
<path d="M270.4 74.50H282.3M270.4 78.20H282.3" stroke="#1a1a1a" stroke-width="0.75"/>
<text x="288.6" y="80.40" font-size="17.4" font-weight="bold" fill="#1a1a1a" textLength="9.7" lengthAdjust="spacingAndGlyphs">2</text>
<clipPath id="cl1"><rect x="316.3" y="27.1" width="40.80000000000001" height="11.4"/></clipPath>
<clipPath id="cl3"><rect x="316.3" y="71.1" width="40.80000000000001" height="11.4"/></clipPath>
<g clip-path="url(#cl1)"><path d="M306.16 23.10L296.16 43.10M308.68 23.10L298.68 43.10M311.20 23.10L301.20 43.10M313.72 23.10L303.72 43.10M316.24 23.10L306.24 43.10M318.76 23.10L308.76 43.10M321.28 23.10L311.28 43.10M323.80 23.10L313.80 43.10M326.32 23.10L316.32 43.10M328.84 23.10L318.84 43.10M331.36 23.10L321.36 43.10M333.88 23.10L323.88 43.10M336.40 23.10L326.40 43.10M338.92 23.10L328.92 43.10M341.44 23.10L331.44 43.10M343.96 23.10L333.96 43.10M346.48 23.10L336.48 43.10M349.00 23.10L339.00 43.10M351.52 23.10L341.52 43.10M354.04 23.10L344.04 43.10M356.56 23.10L346.56 43.10M359.08 23.10L349.08 43.10M361.60 23.10L351.60 43.10M364.12 23.10L354.12 43.10M366.64 23.10L356.64 43.10M369.16 23.10L359.16 43.10M371.68 23.10L361.68 43.10M374.20 23.10L364.20 43.10M376.72 23.10L366.72 43.10M379.24 23.10L369.24 43.10" stroke="#ff0000" stroke-width="0.45" fill="none"/></g>
<rect x="316.3" y="27.1" width="40.80000000000001" height="11.4" fill="none" stroke="#ff0000" stroke-width="0.62"/>
<rect x="316.3" y="49.3" width="40.80000000000001" height="11.1" fill="none" stroke="#5050ff" stroke-width="0.95" stroke-dasharray="1.9 1.8"/>
<g clip-path="url(#cl3)"><path d="M284.61 66.80L299.99 86.80M299.99 66.80L284.61 86.80M292.66 66.80L308.04 86.80M308.04 66.80L292.66 86.80M300.71 66.80L316.09 86.80M316.09 66.80L300.71 86.80M308.76 66.80L324.14 86.80M324.14 66.80L308.76 86.80M316.81 66.80L332.19 86.80M332.19 66.80L316.81 86.80M324.86 66.80L340.24 86.80M340.24 66.80L324.86 86.80M332.91 66.80L348.29 86.80M348.29 66.80L332.91 86.80M340.96 66.80L356.34 86.80M356.34 66.80L340.96 86.80M349.01 66.80L364.39 86.80M364.39 66.80L349.01 86.80M357.06 66.80L372.44 86.80M372.44 66.80L357.06 86.80M365.11 66.80L380.49 86.80M380.49 66.80L365.11 86.80M373.16 66.80L388.54 86.80M388.54 66.80L373.16 86.80M381.21 66.80L396.59 86.80M396.59 66.80L381.21 86.80M389.26 66.80L404.64 86.80M404.64 66.80L389.26 86.80" stroke="#ff00ff" stroke-width="0.6" stroke-dasharray="0.7 0.7" fill="none"/></g>
<rect x="316.3" y="71.1" width="40.80000000000001" height="11.4" fill="none" stroke="#ff00ff" stroke-width="0.9" stroke-dasharray="0.7 0.7"/>
<text x="69.6" y="347.2" font-size="25" font-style="italic" fill="#1a1a1a" textLength="14.4" lengthAdjust="spacingAndGlyphs">σ</text>
<text x="84.8" y="346.2" font-size="24.5" fill="#1a1a1a" textLength="7" lengthAdjust="spacingAndGlyphs" transform="translate(0 329.3) scale(1 1.17) translate(0 -329.3)">(</text>
<text x="93.4" y="346.7" font-size="24" font-weight="bold" fill="#1a1a1a" textLength="27.4" lengthAdjust="spacingAndGlyphs">gg</text>
<path d="M131 341H152.4M147.6 337.2Q149.5 340 152.9 341Q149.5 342 147.6 344.8" stroke="#1a1a1a" stroke-width="0.9" fill="none"/>
<text x="162" y="346.7" font-size="24.4" font-weight="bold" fill="#1a1a1a" textLength="22.8" lengthAdjust="spacingAndGlyphs">H</text>
<text x="184.6" y="346.2" font-size="24.5" fill="#1a1a1a" textLength="7" lengthAdjust="spacingAndGlyphs" transform="translate(0 329.3) scale(1 1.17) translate(0 -329.3)">)</text>
<text x="203.2" y="346.2" font-size="24.5" fill="#1a1a1a" transform="translate(0 329.0) scale(1 1.19) translate(0 -329.0)">[</text>
<text x="209.3" y="346.7" font-size="24" font-weight="bold" fill="#1a1a1a" textLength="24.6" lengthAdjust="spacingAndGlyphs">fb</text>
<text x="232.6" y="346.2" font-size="24.5" fill="#1a1a1a" transform="translate(0 329.0) scale(1 1.19) translate(0 -329.0)">]</text>
<text x="68.3" y="374.6" font-size="16.4" font-weight="bold" fill="#1a1a1a" textLength="39.6" lengthAdjust="spacingAndGlyphs">NLO</text>
<text x="68.3" y="402.1" font-size="16.4" font-weight="bold" fill="#1a1a1a" textLength="56.8" lengthAdjust="spacingAndGlyphs">NNLO</text>
<path d="M142.9 368.4H185" stroke="#000" stroke-width="0.95"/>
<path d="M142.9 396.7H185" stroke="#000" stroke-width="3.0"/>
</svg>
</body></html>
